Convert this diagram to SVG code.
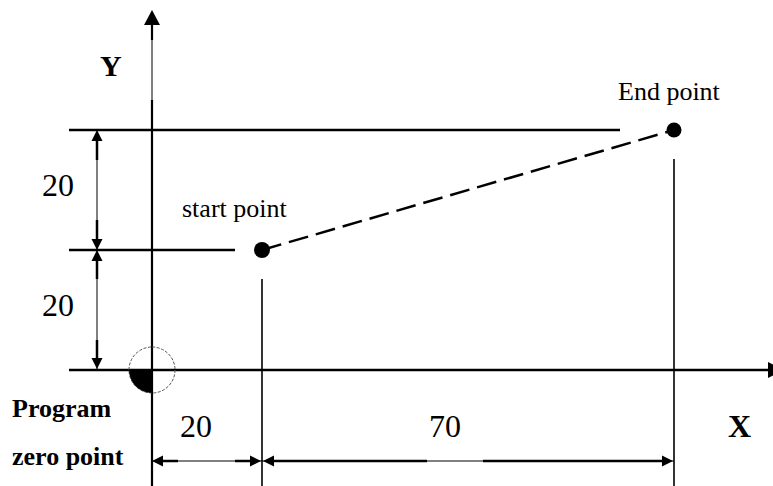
<svg xmlns="http://www.w3.org/2000/svg" width="773" height="486" viewBox="0 0 773 486">
  <style>
    .thick { stroke: #000; stroke-width: 2.5; fill: none; }
    .mid { stroke: #000; stroke-width: 1.6; fill: none; }
    .thin { stroke: #000; stroke-width: 1; fill: none; }
    .ah { fill: #000; stroke: none; }
    .dash { stroke: #000; stroke-width: 2.5; stroke-dasharray: 20 8; fill: none; }
    .reg { font-family: "Liberation Serif", "Times New Roman", serif; fill: #000; }
    .bold { font-family: "Liberation Serif", "Times New Roman", serif; font-weight: bold; fill: #000; }
  </style>
  <rect width="773" height="486" fill="#fff"/>

  <g id="axes">
    <!-- X axis -->
    <line class="thick" x1="69" y1="370" x2="769" y2="370"/>
    <polygon class="ah" points="768,362 784,370 768,378"/>
    <!-- Y axis -->
    <line x1="152" y1="24" x2="152" y2="40" stroke="#000" stroke-width="2.2"/>
    <line class="thin" x1="152" y1="39" x2="152" y2="101"/>
    <line x1="152" y1="100" x2="152" y2="486" stroke="#000" stroke-width="2.2"/>
    <polygon class="ah" points="144,25 152,10 160,25"/>
  </g>

  <g id="reference-lines">
    <line class="thick" x1="69" y1="130" x2="620" y2="130"/>
    <line class="thick" x1="69" y1="250" x2="235" y2="250"/>
    <line class="mid" x1="262" y1="279" x2="262" y2="486"/>
    <line class="mid" x1="674" y1="159" x2="674" y2="486"/>
  </g>

  <g id="connectors">
    <!-- path start to end -->
    <line class="dash" x1="262" y1="250" x2="674" y2="130"/>

    <!-- vertical dimension (upper 20) -->
    <line class="thin" x1="97" y1="130" x2="97" y2="370"/>
    <line class="thick" x1="97" y1="140" x2="97" y2="160"/>
    <polygon class="ah" points="91.5,141 97,130 102.5,141"/>
    <line class="thick" x1="97" y1="220" x2="97" y2="240"/>
    <polygon class="ah" points="91.5,239 97,250 102.5,239"/>
    <!-- vertical dimension (lower 20) -->
    <line class="thick" x1="97" y1="260" x2="97" y2="279"/>
    <polygon class="ah" points="91.5,261 97,250 102.5,261"/>
    <line class="thick" x1="97" y1="340" x2="97" y2="359"/>
    <polygon class="ah" points="91.5,358 97,369 102.5,358"/>

    <!-- horizontal dimension 20 -->
    <line class="thin" x1="152" y1="461" x2="262" y2="461"/>
    <line class="thick" x1="162" y1="461" x2="178" y2="461"/>
    <polygon class="ah" points="163,455.5 152,461 163,466.5"/>
    <line class="thick" x1="235" y1="461" x2="251" y2="461"/>
    <polygon class="ah" points="250,455.5 261,461 250,466.5"/>

    <!-- horizontal dimension 70 -->
    <line class="thin" x1="262" y1="461" x2="674" y2="461"/>
    <line class="thick" x1="272" y1="461" x2="427" y2="461"/>
    <polygon class="ah" points="274,455.5 263,461 274,466.5"/>
    <line class="thick" x1="483" y1="461" x2="663" y2="461"/>
    <polygon class="ah" points="662,455.5 673,461 662,466.5"/>
  </g>

  <g id="origin">
    <circle cx="152" cy="370" r="23" fill="none" stroke="#555" stroke-width="1" stroke-dasharray="3 1.5"/>
    <path d="M152,370 L129,370 A23,23 0 0 0 152,393 Z" fill="#000"/>
    <text class="bold" x="12" y="417" font-size="26">Program</text>
    <text class="bold" x="12" y="465" font-size="26">zero point</text>
  </g>

  <g id="start-point">
    <circle cx="262" cy="250" r="8" fill="#000"/>
    <text class="reg" x="182" y="217" font-size="26">start point</text>
  </g>

  <g id="end-point">
    <circle cx="674" cy="130" r="7.5" fill="#000"/>
    <text class="reg" x="618" y="100" font-size="26">End point</text>
  </g>

  <g id="labels">
    <text class="bold" x="100" y="76" font-size="30">Y</text>
    <text class="bold" x="728" y="437" font-size="32">X</text>
    <text class="reg" x="42" y="196" font-size="32">20</text>
    <text class="reg" x="42" y="316" font-size="32">20</text>
    <text class="reg" x="180" y="437" font-size="32">20</text>
    <text class="reg" x="429" y="437" font-size="32">70</text>
  </g>
</svg>
